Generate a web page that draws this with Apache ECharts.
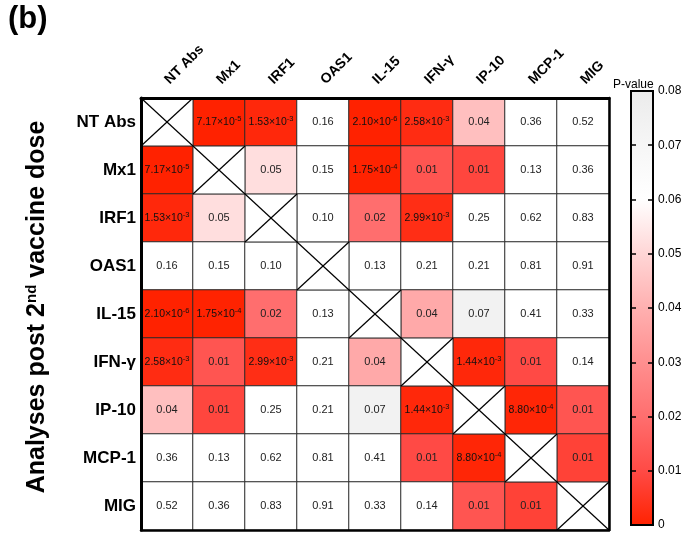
<!DOCTYPE html>
<html>
<head>
<meta charset="utf-8">
<script src="https://cdn.jsdelivr.net/npm/echarts@6/dist/echarts.min.js"></script>
<style>
  html, body { margin: 0; padding: 0; background: #fff; }
  #chart { width: 691px; height: 534px; }
</style>
</head>
<body>
<div id="chart"></div>
<script>
// Markers compared pairwise (same order on both axes)
const markers = ['NT Abs', 'Mx1', 'IRF1', 'OAS1', 'IL-15', 'IFN-γ', 'IP-10', 'MCP-1', 'MIG'];

// P-values per row (null = the marker against itself)
const pNTAbs = [null, 7.17e-5, 1.53e-3, 0.16, 2.10e-6, 2.58e-3, 0.044, 0.36, 0.52];
const pMx1   = [7.17e-5, null, 0.052, 0.15, 1.75e-4, 0.013, 0.009, 0.13, 0.36];
const pIRF1  = [1.53e-3, 0.052, null, 0.10, 0.02, 2.99e-3, 0.25, 0.62, 0.83];
const pOAS1  = [0.16, 0.15, 0.10, null, 0.13, 0.21, 0.21, 0.81, 0.91];
const pIL15  = [2.10e-6, 1.75e-4, 0.02, 0.13, null, 0.038, 0.074, 0.41, 0.33];
const pIFNg  = [2.58e-3, 0.013, 2.99e-3, 0.21, 0.038, null, 1.44e-3, 0.010, 0.14];
const pIP10  = [0.044, 0.009, 0.25, 0.21, 0.074, 1.44e-3, null, 8.80e-4, 0.013];
const pMCP1  = [0.36, 0.13, 0.62, 0.81, 0.41, 0.010, 8.80e-4, null, 0.008];
const pMIG   = [0.52, 0.36, 0.83, 0.91, 0.33, 0.14, 0.013, 0.008, null];

// Colour scale: 0 → 0.08 in steps of 0.01 (values above 0.08 are white)
const scaleMin = 0;
const scaleMax = 0.08;
const scaleTicks = [0, 0.01, 0.02, 0.03, 0.04, 0.05, 0.06, 0.07, 0.08];
const scaleColors = ['#ff2200', '#ff4a45', '#ff6e6e', '#ff8f8f', '#ffb0b0', '#ffd6d6', '#ffffff', '#f6f6f6', '#ebebeb'];

const rows = [pNTAbs, pMx1, pIRF1, pOAS1, pIL15, pIFNg, pIP10, pMCP1, pMIG];

const cellData = [];
const diagData = [];
rows.forEach((row, r) => {
  row.forEach((v, c) => {
    if (v === null) diagData.push([c, r]);
    else cellData.push([c, r, v]);
  });
});

// The visual map spans twice the scale so that the selected range [0, 0.08]
// has a real upper edge; anything above it falls out of range (white).
const mapMax = scaleMax * 2;
const mapColors = scaleColors.concat(scaleColors.slice(1).map(() => scaleColors[scaleColors.length - 1]));

const FONT = 'Arial, "Liberation Sans", Helvetica, sans-serif';

function formatP(v) {
  if (v < 0.005) {
    const exp = Math.floor(Math.log10(v));
    const mant = (v / Math.pow(10, exp)).toFixed(2);
    return '{sci|' + mant + '×10}{sup|' + exp + '}';
  }
  return '{num|' + v.toFixed(2) + '}';
}

const chart = echarts.init(document.getElementById('chart'), null, { renderer: 'canvas' });

const catAxisBase = {
  type: 'category',
  data: markers,
  gridIndex: 0,
  z: 10,
  axisTick: { show: false },
  splitLine: { show: false }
};

const scaleTick = { show: true, inside: true, length: 5, lineStyle: { color: '#000', width: 1.5 } };

chart.setOption({
  backgroundColor: '#ffffff',
  animation: false,
  textStyle: { fontFamily: FONT },
  title: {
    text: '(b)',
    left: 3,
    top: -1,
    textStyle: { fontFamily: FONT, fontSize: 31, fontWeight: 'bold', color: '#000' }
  },
  grid: [
    { left: 141, top: 98, width: 468, height: 432 },
    { left: 631, top: 91, width: 22, height: 434 }
  ],
  xAxis: [
    Object.assign({}, catAxisBase, {
      position: 'top',
      axisLine: { show: true, lineStyle: { color: '#000', width: 3 } },
      axisLabel: {
        rotate: -45,
        margin: 16,
        fontFamily: FONT,
        fontSize: 14,
        fontWeight: 'bold',
        color: '#000'
      }
    }),
    Object.assign({}, catAxisBase, {
      position: 'bottom',
      axisLine: { show: true, lineStyle: { color: '#000', width: 2.5 } },
      axisLabel: { show: false }
    }),
    {
      type: 'category',
      data: ['P'],
      gridIndex: 1,
      show: false
    }
  ],
  yAxis: [
    Object.assign({}, catAxisBase, {
      position: 'left',
      inverse: true,
      axisLine: { show: true, lineStyle: { color: '#000', width: 3 } },
      axisLabel: {
        margin: 5,
        fontFamily: FONT,
        fontSize: 17,
        fontWeight: 'bold',
        color: '#000'
      },
      name: 'Analyses post 2{sup|nd} vaccine dose',
      nameLocation: 'middle',
      nameRotate: 90,
      nameGap: 90,
      nameTextStyle: {
        fontFamily: FONT,
        fontSize: 25,
        fontWeight: 'bold',
        color: '#000',
        lineHeight: 27,
        padding: [0, 0, 0, 14],
        rich: {
          sup: { fontFamily: FONT, fontSize: 15, fontWeight: 'bold', color: '#000', verticalAlign: 'top', lineHeight: 15 }
        }
      }
    }),
    Object.assign({}, catAxisBase, {
      position: 'right',
      inverse: true,
      axisLine: { show: true, lineStyle: { color: '#000', width: 2.5 } },
      axisLabel: { show: false }
    }),
    {
      type: 'value',
      gridIndex: 1,
      position: 'left',
      min: scaleMin,
      max: scaleMax,
      interval: 0.01,
      z: 10,
      axisLine: { show: false },
      axisTick: scaleTick,
      axisLabel: { show: false },
      splitLine: { show: false },
      name: 'P-value',
      nameLocation: 'end',
      nameGap: 0,
      nameTextStyle: { fontFamily: FONT, fontSize: 12, color: '#000', align: 'left', padding: [0, 0, 0, -18] }
    },
    {
      type: 'value',
      gridIndex: 1,
      position: 'right',
      min: scaleMin,
      max: scaleMax,
      interval: 0.01,
      z: 10,
      axisLine: { show: false },
      axisTick: scaleTick,
      axisLabel: {
        margin: 5,
        fontFamily: FONT,
        fontSize: 12,
        color: '#000',
        formatter: v => (v === 0 ? '0' : v.toFixed(2))
      },
      splitLine: { show: false }
    }
  ],
  visualMap: {
    type: 'continuous',
    show: false,
    seriesIndex: 0,
    dimension: 2,
    min: scaleMin,
    max: mapMax,
    range: [scaleMin, scaleMax],
    inRange: { color: mapColors },
    outOfRange: { color: ['#ffffff'] }
  },
  series: [
    {
      type: 'heatmap',
      xAxisIndex: 0,
      yAxisIndex: 0,
      data: cellData,
      itemStyle: { borderColor: '#2a2a2a', borderWidth: 1 },
      emphasis: { disabled: true },
      label: {
        show: true,
        formatter: p => formatP(p.value[2]),
        rich: {
          num: { fontFamily: FONT, fontSize: 11, color: '#222' },
          sci: { fontFamily: FONT, fontSize: 10.5, color: '#111', lineHeight: 14 },
          sup: { fontFamily: FONT, fontSize: 7.5, color: '#111', verticalAlign: 'top', lineHeight: 8 }
        }
      }
    },
    {
      type: 'custom',
      xAxisIndex: 0,
      yAxisIndex: 0,
      data: diagData,
      silent: true,
      renderItem: function (params, api) {
        const c = api.coord([api.value(0), api.value(1)]);
        const s = api.size([1, 1]);
        const x0 = c[0] - s[0] / 2, x1 = c[0] + s[0] / 2;
        const y0 = c[1] - s[1] / 2, y1 = c[1] + s[1] / 2;
        const stroke = { stroke: '#000', lineWidth: 1.2 };
        return {
          type: 'group',
          children: [
            { type: 'rect', shape: { x: x0, y: y0, width: s[0], height: s[1] }, style: { fill: '#fff', stroke: '#2a2a2a', lineWidth: 1 } },
            { type: 'line', shape: { x1: x0, y1: y0, x2: x1, y2: y1 }, style: stroke },
            { type: 'line', shape: { x1: x1, y1: y0, x2: x0, y2: y1 }, style: stroke }
          ]
        };
      }
    },
    {
      type: 'custom',
      xAxisIndex: 2,
      yAxisIndex: 3,
      z: 1,
      data: [[0, scaleMax]],
      silent: true,
      renderItem: function (params, api) {
        const top = api.coord([0, scaleMax]);
        const bottom = api.coord([0, scaleMin]);
        const w = api.size([1, 0])[0];
        const stops = scaleColors.map((col, i) => ({
          offset: 1 - (scaleTicks[i] - scaleMin) / (scaleMax - scaleMin),
          color: col
        })).sort((a, b) => a.offset - b.offset);
        return {
          type: 'rect',
          shape: { x: top[0] - w / 2, y: top[1], width: w, height: bottom[1] - top[1] },
          style: {
            fill: new echarts.graphic.LinearGradient(0, 0, 0, 1, stops),
            stroke: '#000',
            lineWidth: 2
          }
        };
      }
    }
  ]
});
</script>
</body>
</html>
